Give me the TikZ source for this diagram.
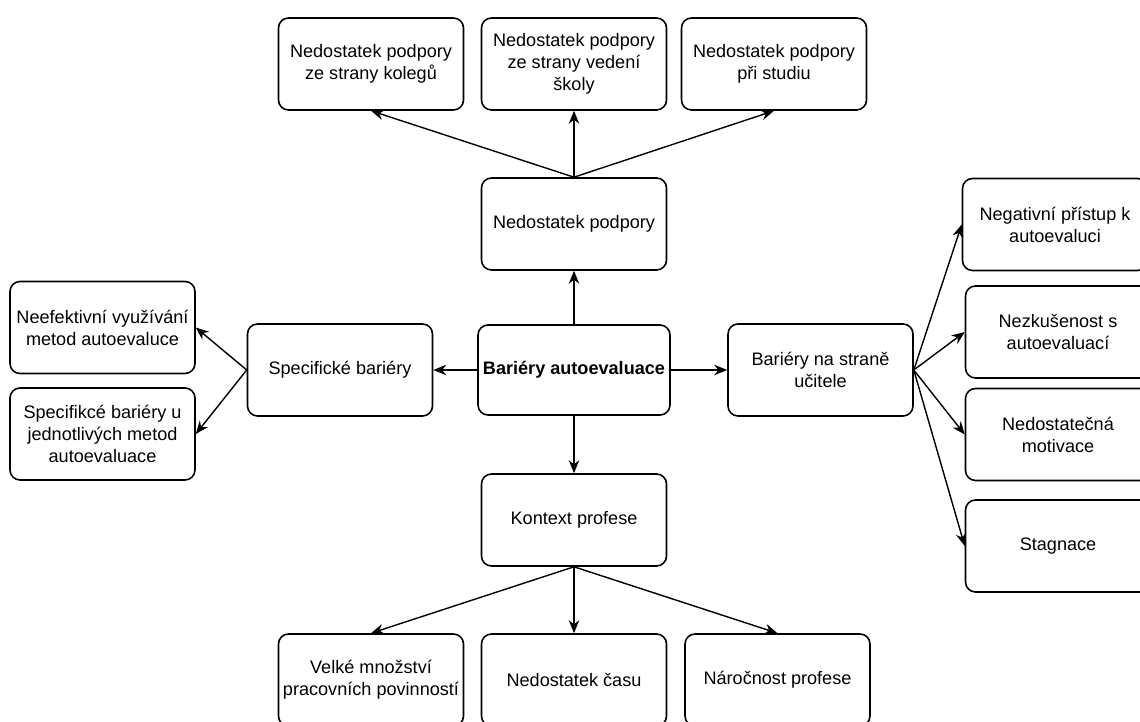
\documentclass[tikz,border=0pt]{standalone}
\usepackage{fontspec}
\setmainfont{Liberation Sans}
\usetikzlibrary{arrows.meta,positioning}

\begin{document}
\begin{tikzpicture}[->,>={Stealth[length=2.6mm,width=2.1mm]},line width=0.8pt,on grid,
    box/.style={draw,rounded corners=2mm,line width=0.9pt,align=center,minimum width=3.7cm,minimum height=1.84cm,inner sep=1pt,font=\fontsize{10.3}{12.6}\selectfont}]
    %\draw[help lines] (0,0) grid (22.8,-14.44);
    \useasboundingbox (0,0) rectangle (22.8,-14.44);
    \clip (0,0) rectangle (22.8,-14.44);
    \node[box,minimum width=3.84cm,minimum height=1.8cm] (bariery) at (11.48,-7.4) {\bfseries Bariéry autoevaluace} ;
    \node[box] (podpora) [above=2.92cm of bariery] {Nedostatek podpory} ;
    \node[box] (vedeni) [above=3.2cm of podpora] {Nedostatek podpory\\ ze strany vedení\\ školy} ;
    \node[box] (kolegove) [left=4.06cm of vedeni] {Nedostatek podpory\\ ze strany kolegů} ;
    \node[box] (studium) [right=4cm of vedeni] {Nedostatek podpory\\ při studiu} ;
    \node[box] (specificke) [left=4.68cm of bariery] {Specifické bariéry} ;
    \node[box] (neefektivni) [above left=0.85cm and 4.75cm of specificke] {Neefektivní využívání\\ metod autoevaluce} ;
    \node[box] (metody) [below left=1.28cm and 4.75cm of specificke] {Specifikcé bariéry u\\ jednotlivých metod\\ autoevaluace} ;
    \node[box] (ucitel) [right=4.93cm of bariery] {Bariéry na straně\\ učitele} ;
    \node[box] (negativni) [above right=2.91cm and 4.69cm of ucitel] {Negativní přístup k\\ autoevaluci} ;
    \node[box] (nezkusenost) [above right=0.76cm and 4.75cm of ucitel] {Nezkušenost s\\ autoevaluací} ;
    \node[box] (motivace) [below right=1.29cm and 4.75cm of ucitel] {Nedostatečná\\ motivace} ;
    \node[box] (stagnace) [below right=3.52cm and 4.75cm of ucitel] {Stagnace} ;
    \node[box] (kontext) [below=3cm of bariery] {Kontext profese} ;
    \node[box] (cas) [below=3.2cm of kontext] {Nedostatek času} ;
    \node[box] (povinnosti) [left=4.06cm of cas] {Velké množství\\ pracovních povinností} ;
    \node[box] (narocnost) [right=4.07cm of cas] {Náročnost profese} ;
    \path
    (bariery) edge (podpora)
    (bariery) edge (specificke)
    (bariery) edge (ucitel)
    (bariery) edge (kontext)
    (podpora.north) edge (kolegove.south)
    (podpora.north) edge (vedeni.south)
    (podpora.north) edge (studium.south)
    (specificke.west) edge (neefektivni.east)
    (specificke.west) edge (metody.east)
    (ucitel.east) edge (negativni.west)
    (ucitel.east) edge (nezkusenost.west)
    (ucitel.east) edge (motivace.west)
    (ucitel.east) edge (stagnace.west)
    (kontext.south) edge (povinnosti.north)
    (kontext.south) edge (cas.north)
    (kontext.south) edge (narocnost.north);
\end{tikzpicture}
\end{document}
